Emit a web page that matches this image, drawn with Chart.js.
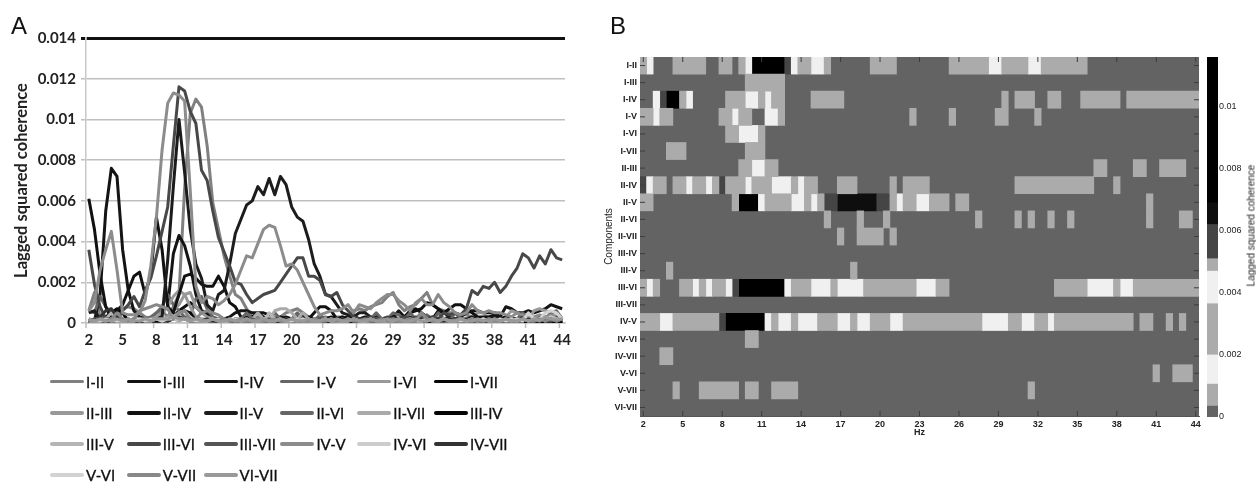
<!DOCTYPE html>
<html>
<head>
<meta charset="utf-8">
<title>Lagged squared coherence</title>
<script src="https://cdn.jsdelivr.net/npm/chart.js@4"></script>
<style>
  html, body { margin: 0; background: #fff; }
  #page { position: relative; width: 1256px; height: 482px; overflow: hidden; filter: blur(0.5px); }
  canvas { position: absolute; }
  .panel { position: absolute; font: 24px "Liberation Sans", sans-serif; color: #111; }
  #barTitle { position: absolute; left: 1186px; top: 220px; width: 130px; text-align: center; font: 10px "Liberation Sans", sans-serif; color: #222; transform: rotate(-90deg); }
  #legend { position: absolute; left: 50px; top: 366px; display: grid; grid-template-columns: repeat(6, 76.8px); grid-auto-rows: 31.2px; font: 15px Lato, sans-serif; color: #111; -webkit-text-stroke: 0.3px #111; }
  #legend div { display: flex; align-items: center; white-space: nowrap; }
  #legend i { display: block; width: 34px; height: 3.5px; margin-right: 2px; border-radius: 2px; }
</style>
</head>
<body>
<div id="page">
  <div class="panel" style="left:11px;top:12px">A</div>
  <div class="panel" style="left:610px;top:12px">B</div>
  <canvas id="lines"></canvas>
  <div id="legend"></div>
  <canvas id="heat"></canvas>
  <canvas id="bar"></canvas>
  <div id="barTitle">Lagged squared coherence</div>
</div>
<script>
const hz = [
  2, 2.5, 3, 3.5, 4, 4.5, 5, 5.5, 6, 6.5,
  7, 7.5, 8, 8.5, 9, 9.5, 10, 10.5, 11, 11.5,
  12, 12.5, 13, 13.5, 14, 14.5, 15, 15.5, 16, 16.5,
  17, 17.5, 18, 18.5, 19, 19.5, 20, 20.5, 21, 21.5,
  22, 22.5, 23, 23.5, 24, 24.5, 25, 25.5, 26, 26.5,
  27, 27.5, 28, 28.5, 29, 29.5, 30, 30.5, 31, 31.5,
  32, 32.5, 33, 33.5, 34, 34.5, 35, 35.5, 36, 36.5,
  37, 37.5, 38, 38.5, 39, 39.5, 40, 40.5, 41, 41.5,
  42, 42.5, 43, 43.5, 44
];
const hzTicks = [2, 5, 8, 11, 14, 17, 20, 23, 26, 29, 32, 35, 38, 41, 44];
const unit = 0.0001; // series below are in units of 0.0001

const pairs = ['I-II', 'I-III', 'I-IV', 'I-V', 'I-VI', 'I-VII', 'II-III', 'II-IV', 'II-V', 'II-VI', 'II-VII', 'III-IV', 'III-V', 'III-VI', 'III-VII', 'IV-V', 'IV-VI', 'IV-VII', 'V-VI', 'V-VII', 'VI-VII'];
const pairColors = ['#808080', '#111111', '#141414', '#666666', '#999999', '#050505', '#999999', '#111111', '#1c1c1c', '#666666', '#aaaaaa', '#050505', '#b5b5b5', '#484848', '#555555', '#8c8c8c', '#cccccc', '#333333', '#d2d2d2', '#888888', '#999999'];

const I_II = [6,15,3,2,2,5,7,8,7,5,
  3,2,5,6,3,8,14,66,103,110,
  106,87,59,46,33,23,14,12,7,3,
  3,2,2,3,3,5,6,7,5,3,
  2,2,3,2,3,3,2,6,7,6,
  8,9,10,13,15,9,6,8,9,12,
  15,9,7,6,5,5,4,4,3,2,
  2,3,2,2,3,2,2,3,2,2,
  3,2,3,2,2];
const I_III = [0,1,0,0,0,1,0,0,1,0,
  1,1,2,1,2,3,6,8,10,8,
  5,4,2,1,0,1,0,0,1,0,
  0,1,0,0,1,0,0,1,0,1,
  0,0,1,0,0,1,0,0,0,1,
  0,1,0,0,1,0,0,0,1,0,
  0,1,0,0,1,0,0,1,0,0,
  1,0,0,1,0,0,0,1,0,0,
  0,1,0,0,0];
const I_IV = [1,1,14,55,76,72,36,16,6,3,
  2,2,2,5,8,34,43,38,28,14,
  6,5,2,2,2,3,5,6,6,5,
  5,3,2,2,2,3,2,2,2,3,
  2,2,2,3,2,2,3,2,2,2,
  2,3,2,2,3,6,3,6,7,5,
  3,2,6,5,3,2,3,5,6,6,
  5,5,5,3,8,7,5,5,6,5,
  6,7,9,8,7];
const I_V = [6,5,13,8,5,2,2,1,2,2,
  2,3,5,8,14,9,6,3,3,12,
  13,7,3,2,2,1,1,2,1,1,
  1,2,1,1,2,1,1,2,1,2,
  1,4,2,1,1,2,1,4,2,1,
  1,2,1,2,5,4,2,1,2,1,
  4,2,1,1,2,1,1,2,1,1,
  2,1,1,1,2,1,2,1,1,2,
  1,1,2,1,1];
const I_VI = [1,1,1,2,2,1,2,1,1,2,
  2,2,3,5,8,13,16,14,8,3,
  2,2,1,2,1,1,2,1,2,1,
  1,1,2,1,1,2,1,1,1,2,
  1,1,1,2,1,1,1,1,2,1,
  1,2,1,1,1,2,1,1,1,1,
  2,1,1,1,2,1,1,1,1,2,
  1,1,1,2,1,1,1,2,1,1,
  2,1,1,1,2];
const I_VII = [0,1,1,3,5,7,5,1,0,1,
  0,1,1,1,2,3,5,6,5,1,
  1,0,0,1,1,0,0,1,0,0,
  1,0,0,1,0,1,0,0,1,0,
  0,1,1,0,0,1,0,1,0,0,
  1,0,0,1,0,0,1,1,0,0,
  1,0,0,1,0,1,0,0,1,0,
  0,1,0,1,0,0,1,0,0,1,
  0,1,0,0,1];
const II_III = [1,2,1,1,2,1,1,1,2,1,
  1,2,2,2,3,6,9,14,15,8,
  5,3,2,1,1,1,2,1,1,1,
  1,2,1,1,1,2,1,1,1,1,
  2,1,1,1,1,2,1,1,1,1,
  1,2,1,1,1,1,2,1,1,1,
  2,1,1,1,1,2,1,1,2,5,
  5,2,1,2,3,6,5,3,2,6,
  7,6,5,3,2];
const II_IV = [61,46,24,8,2,6,9,16,23,25,
  14,24,52,36,8,5,14,23,24,22,
  19,18,18,23,18,10,8,3,3,3,
  5,5,4,2,3,2,2,3,4,2,
  5,8,8,6,2,3,2,3,2,3,
  2,3,2,2,3,2,3,5,6,7,
  10,9,7,5,7,9,9,7,5,3,
  3,3,4,2,3,2,2,3,2,2,
  2,3,2,2,2];
const II_V = [5,6,2,1,2,1,1,2,1,2,
  1,2,2,3,31,67,100,74,46,29,
  22,9,6,14,16,29,44,51,58,60,
  67,63,71,63,72,68,57,52,50,41,
  29,23,14,13,9,5,4,3,5,5,
  3,2,2,2,3,2,2,3,2,2,
  2,3,2,2,3,2,2,2,3,2,
  2,2,3,2,2,2,2,4,2,2,
  3,2,2,2,3];
const II_VI = [1,1,2,1,1,2,1,1,2,1,
  1,2,1,1,2,2,3,2,2,1,
  1,2,1,2,1,1,2,2,5,2,
  1,2,2,5,2,1,2,5,2,1,
  2,1,1,2,1,2,1,1,2,1,
  2,5,2,1,2,1,2,5,2,5,
  2,1,5,2,1,5,2,1,2,1,
  1,2,1,1,2,1,2,5,2,1,
  2,2,5,6,2];
const II_VII = [1,1,1,2,1,1,1,2,1,1,
  1,1,2,1,1,2,1,2,1,1,
  2,1,1,1,2,1,1,2,1,2,
  5,2,2,6,7,7,5,2,5,2,
  1,1,2,1,1,1,2,1,1,1,
  1,2,1,1,1,2,1,1,1,2,
  1,1,1,2,1,1,1,1,2,1,
  1,1,2,1,1,1,2,1,1,1,
  2,1,1,2,1];
const III_IV = [0,1,0,0,1,0,1,0,0,1,
  0,1,1,1,1,2,3,2,1,0,
  0,1,0,0,1,0,0,1,0,0,
  1,0,1,0,0,1,0,0,1,0,
  0,1,0,0,1,0,0,1,0,0,
  1,0,0,1,0,1,0,0,1,0,
  0,1,0,0,1,0,0,1,0,0,
  1,0,1,0,0,1,0,0,1,0,
  0,1,0,0,1];
const III_V = [1,1,2,2,5,2,1,1,1,2,
  1,1,2,1,2,2,3,2,2,1,
  1,2,1,1,1,2,1,1,2,1,
  1,1,5,2,1,1,2,1,1,1,
  2,1,1,2,1,1,1,2,1,1,
  1,2,1,1,2,1,1,1,2,1,
  2,1,1,2,1,1,1,2,1,1,
  1,2,1,1,2,1,1,2,1,1,
  2,1,2,1,2];
const III_VI = [36,19,8,2,2,1,6,9,13,8,
  16,22,33,45,57,87,116,114,104,98,
  75,70,55,42,35,28,20,19,14,10,
  12,14,15,16,20,24,28,32,32,23,
  23,21,14,13,15,9,6,3,2,2,
  3,2,2,3,2,2,3,2,3,2,
  2,3,2,5,4,5,4,7,16,14,
  18,17,20,15,18,23,27,34,32,27,
  33,29,36,32,31];
const III_VII = [1,2,1,2,1,1,2,1,1,2,
  1,2,2,1,2,3,2,2,1,1,
  1,1,2,2,1,1,2,1,1,2,
  1,1,2,1,1,2,1,1,2,1,
  1,2,1,1,2,1,1,2,1,1,
  2,1,1,2,1,1,2,1,1,3,
  2,1,2,1,1,2,1,1,2,1,
  1,2,1,1,2,1,1,2,1,1,
  2,1,1,3,2];
const IV_V = [6,10,26,36,45,26,5,4,4,5,
  11,28,52,85,108,113,112,109,65,18,
  10,13,12,9,11,14,19,26,33,32,
  39,46,48,47,38,28,29,26,20,14,
  8,4,5,6,6,7,9,5,9,8,
  7,10,12,14,14,11,9,6,10,12,
  9,9,14,10,8,5,4,5,9,6,
  5,6,5,5,4,3,5,4,2,3,
  4,3,4,2,2];
const IV_VI = [1,1,1,2,1,1,1,1,2,1,
  1,2,2,2,2,3,5,6,3,1,
  1,1,1,2,1,1,1,1,2,1,
  1,1,1,2,1,1,1,2,1,1,
  1,1,2,1,1,1,2,1,1,1,
  1,1,2,1,1,1,1,2,1,1,
  1,2,1,1,1,1,2,1,1,1,
  2,1,1,1,1,2,1,1,2,1,
  2,2,3,2,2];
const IV_VII = [2,1,3,6,7,3,1,1,2,1,
  1,1,2,2,1,2,3,2,1,1,
  1,2,1,1,2,1,1,1,2,1,
  1,2,1,1,1,2,1,1,2,1,
  1,1,2,1,1,2,1,1,1,2,
  1,1,2,1,1,2,1,1,1,2,
  1,1,2,1,2,1,1,2,1,1,
  2,1,1,2,1,1,2,1,2,1,
  1,2,2,1,2];
const V_VI = [1,1,1,1,2,1,1,1,1,2,
  1,1,2,1,2,2,2,2,1,1,
  1,1,2,1,1,1,2,1,1,1,
  1,2,1,1,2,1,1,1,2,1,
  1,1,2,1,1,1,1,2,1,1,
  2,1,1,1,1,2,1,1,1,1,
  2,1,1,2,1,1,1,1,2,1,
  2,1,1,2,1,1,2,1,5,2,
  2,5,6,5,2];
const V_VII = [1,1,2,1,2,5,2,1,2,6,
  7,8,9,8,7,2,5,6,2,2,
  5,6,5,4,2,1,1,2,1,1,
  2,1,1,2,1,1,2,1,1,1,
  2,1,1,2,1,1,2,1,1,2,
  1,1,2,1,2,1,1,2,1,5,
  2,1,1,2,1,1,2,1,2,1,
  1,2,1,1,2,1,1,2,1,1,
  2,1,2,1,2];
const VI_VII = [2,1,2,1,1,2,1,2,1,1,
  2,1,2,2,2,3,2,2,1,2,
  1,1,2,1,1,2,1,1,2,1,
  1,2,1,1,2,1,2,1,1,2,
  1,1,2,1,2,1,1,2,1,1,
  2,1,1,2,1,2,1,1,2,1,
  1,2,1,2,1,1,2,1,1,2,
  1,1,2,1,2,1,1,2,1,2,
  1,3,2,2,2];
const pairSeries = [I_II, I_III, I_IV, I_V, I_VI, I_VII, II_III, II_IV, II_V, II_VI, II_VII, III_IV, III_V, III_VI, III_VII, IV_V, IV_VI, IV_VII, V_VI, V_VII, VI_VII];

// heatmap: per pair, runs of 0.5 Hz bins as [firstBin, endBin, band]
const levelColors = { g: '#636363', a: '#ababab', w: '#f0f0f0', d: '#454545', n: '#0e0e0e', k: '#000000' };
const heatRuns = [
  [[0,1,'a'],[1,2,'w'],[5,10,'a'],[12,14,'a'],[15,16,'a'],[16,17,'w'],[17,22,'k'],[22,23,'d'],[23,24,'w'],[24,26,'a'],[26,28,'w'],[28,29,'a'],[35,39,'a'],[47,53,'a'],[53,55,'w'],[55,59,'a'],[59,61,'w'],[61,68,'a']],
  [[16,22,'a']],
  [[2,3,'w'],[3,4,'d'],[4,6,'k'],[6,7,'a'],[7,8,'w'],[13,16,'a'],[16,18,'w'],[18,19,'a'],[19,20,'w'],[20,22,'a'],[26,31,'a'],[55,56,'a'],[57,60,'a'],[62,64,'a'],[67,73,'a'],[74,85,'a']],
  [[0,2,'a'],[2,3,'w'],[3,5,'a'],[12,14,'a'],[14,15,'w'],[15,17,'a'],[19,21,'w'],[21,22,'a'],[41,42,'a'],[47,48,'a'],[54,56,'a'],[60,61,'a']],
  [[13,15,'a'],[15,18,'w'],[18,19,'a']],
  [[4,7,'a'],[16,19,'a']],
  [[15,17,'a'],[17,19,'w'],[19,21,'a'],[69,71,'a'],[75,77,'a'],[79,83,'a']],
  [[0,1,'d'],[1,2,'w'],[2,4,'a'],[5,7,'a'],[7,8,'w'],[8,10,'a'],[10,11,'w'],[11,12,'a'],[12,13,'d'],[13,16,'a'],[16,17,'w'],[17,20,'a'],[20,23,'w'],[23,24,'a'],[24,25,'w'],[25,27,'a'],[30,33,'a'],[38,39,'a'],[40,44,'a'],[57,69,'a'],[72,73,'a']],
  [[0,2,'a'],[14,15,'a'],[15,18,'k'],[18,19,'w'],[19,23,'a'],[23,25,'w'],[25,26,'a'],[26,27,'w'],[27,28,'a'],[28,30,'d'],[30,36,'n'],[36,38,'d'],[38,39,'a'],[39,40,'w'],[40,42,'a'],[42,44,'w'],[44,47,'a'],[48,50,'a'],[77,78,'a']],
  [[28,29,'a'],[33,34,'a'],[37,38,'a'],[51,52,'a'],[57,58,'a'],[59,60,'a'],[62,63,'a'],[65,66,'a'],[77,78,'a'],[82,84,'a']],
  [[30,31,'a'],[33,37,'a'],[38,39,'a']],
  [],
  [[4,5,'a'],[32,33,'a']],
  [[0,1,'a'],[1,2,'w'],[2,3,'a'],[6,8,'a'],[8,9,'w'],[9,10,'a'],[10,11,'w'],[11,13,'a'],[13,14,'w'],[14,15,'d'],[15,22,'k'],[22,23,'w'],[23,26,'a'],[26,29,'w'],[29,30,'a'],[30,34,'w'],[34,42,'a'],[42,45,'w'],[45,47,'a'],[63,68,'a'],[68,72,'w'],[72,73,'a'],[73,75,'w'],[75,85,'a']],
  [],
  [[0,3,'a'],[3,5,'w'],[5,12,'a'],[12,13,'d'],[13,19,'k'],[19,20,'w'],[20,21,'a'],[21,23,'w'],[23,24,'a'],[24,27,'w'],[27,30,'a'],[30,32,'w'],[32,33,'a'],[33,35,'w'],[35,38,'a'],[38,40,'w'],[40,52,'a'],[52,56,'w'],[56,58,'a'],[58,60,'w'],[60,62,'a'],[62,63,'w'],[63,75,'a'],[76,78,'a'],[80,81,'a'],[82,83,'a']],
  [[16,18,'a']],
  [[3,5,'a']],
  [[78,79,'a'],[81,84,'a']],
  [[5,6,'a'],[9,15,'a'],[16,18,'a'],[20,24,'a'],[59,60,'a']],
  []
];

// colour bar bands: [from, to, band]
const barBands = [[0, 0.00035, 'g'], [0.00035, 0.00106, 'a'], [0.00106, 0.002, 'w'], [0.002, 0.00365, 'a'], [0.00365, 0.0047, 'w'], [0.0047, 0.0051, 'a'], [0.0051, 0.0062, 'd'], [0.0062, 0.0069, 'n'], [0.0069, 0.0116, 'k']];

const smallFont = { family: '"Liberation Sans", sans-serif', size: 9, weight: 'bold' };
const tickFont = { family: 'Lato', size: 15, weight: 'bold' };
const fmt = v => String(+v.toFixed(3));

function place(id, left, top, w, h) {
  const c = document.getElementById(id);
  c.style.left = left + 'px';
  c.style.top = top + 'px';
  c.width = w;
  c.height = h;
  c.style.width = w + 'px';
  c.style.height = h + 'px';
  return c;
}

// tick marks of panel A sit half a bin before each label
const betweenTicks = {
  id: 'betweenTicks',
  afterDraw(chart) {
    const { ctx, scales: { x }, chartArea } = chart;
    ctx.save();
    ctx.strokeStyle = '#bdbdbd';
    ctx.lineWidth = 1.5;
    x.ticks.forEach(t => {
      const px = x.getPixelForValue(t.value - 0.25);
      ctx.beginPath();
      ctx.moveTo(px, chartArea.bottom);
      ctx.lineTo(px, chartArea.bottom + 5);
      ctx.stroke();
    });
    ctx.restore();
  }
};

// tick marks of panel B point into the plot on all four sides
const insideTicks = {
  id: 'insideTicks',
  beforeDatasetsDraw(chart) {
    const { ctx, chartArea: a } = chart;
    ctx.save();
    ctx.fillStyle = levelColors.g;
    ctx.fillRect(a.left, a.top, a.right - a.left, a.bottom - a.top);
    ctx.restore();
  },
  afterDraw(chart) {
    const { ctx, scales: { x, y }, chartArea: a } = chart;
    ctx.save();
    ctx.strokeStyle = '#3c3c3c';
    ctx.lineWidth = 1;
    const seg = (x1, y1, x2, y2) => {
      ctx.beginPath();
      ctx.moveTo(x1, y1);
      ctx.lineTo(x2, y2);
      ctx.stroke();
    };
    y.ticks.forEach((t, i) => {
      const py = y.getPixelForTick(i);
      seg(a.left, py, a.left + 5, py);
      seg(a.right, py, a.right - 5, py);
    });
    x.ticks.forEach(t => {
      const px = x.getPixelForValue(t.value);
      seg(px, a.bottom, px, a.bottom - 5);
      seg(px, a.top, px, a.top + 5);
    });
    ctx.restore();
  }
};

new Chart(place('lines', 0, 0, 600, 360), {
  type: 'line',
  data: {
    datasets: pairSeries.map((values, i) => ({
      label: pairs[i],
      data: values.map((v, j) => ({ x: hz[j], y: v * unit })),
      borderColor: pairColors[i],
      borderWidth: 3,
      pointRadius: 0,
      tension: 0,
      borderJoinStyle: 'round',
      order: -i
    }))
  },
  options: {
    responsive: false,
    animation: false,
    layout: { padding: { top: 38, right: 35, bottom: 10, left: 0 } },
    plugins: { legend: { display: false }, tooltip: { enabled: false } },
    scales: {
      x: {
        type: 'linear',
        min: 1.75,
        max: 44.25,
        afterBuildTicks: s => { s.ticks = hzTicks.map(v => ({ value: v })); },
        afterFit: s => { s.height = 27; },
        grid: { display: false, drawTicks: false },
        border: { color: '#c4c4c4', width: 1.5 },
        ticks: { autoSkip: false, maxRotation: 0, padding: 8, font: tickFont, color: '#222', callback: v => v }
      },
      y: {
        min: 0,
        max: 0.014,
        afterFit: s => { s.width = 86; },
        title: { display: true, text: 'Lagged squared coherence', font: { family: 'Lato', size: 16.5, weight: 'bold' }, color: '#222', padding: { top: 12, bottom: 0 } },
        grid: {
          color: ctx => (ctx.tick && ctx.tick.value > 0.0139 ? '#111111' : '#bfbfbf'),
          lineWidth: ctx => (ctx.tick && ctx.tick.value > 0.0139 ? 3 : 1.5),
          tickLength: 5
        },
        border: { color: '#c8c8c8', width: 1.5 },
        ticks: { stepSize: 0.002, padding: 5, font: tickFont, color: '#222', callback: fmt }
      }
    }
  },
  plugins: [betweenTicks]
});

document.getElementById('legend').innerHTML = pairs.map((name, i) =>
  `<div><i style="background:${pairColors[i]}"></i>${name}</div>`).join('');

const heatData = { g: [], a: [], w: [], d: [], n: [], k: [] };
pairs.forEach((name, row) => {
  heatData.g.push({ x: [hz[0] - 0.25, hz[84] + 0.25], y: name });
  heatRuns[row].forEach(([from, to, band]) => {
    heatData[band].push({ x: [hz[from] - 0.25, hz[to - 1] + 0.25], y: name });
  });
});

new Chart(place('heat', 590, 0, 615, 438), {
  type: 'bar',
  data: {
    labels: pairs,
    datasets: ['a', 'w', 'd', 'n', 'k', 'g'].map(band => ({
      label: band,
      data: heatData[band],
      backgroundColor: levelColors[band],
      borderWidth: 0,
      grouped: false,
      barPercentage: 1,
      categoryPercentage: 1
    }))
  },
  options: {
    indexAxis: 'y',
    responsive: false,
    animation: false,
    layout: { padding: { top: 57, right: 6, bottom: 0, left: 0 } },
    plugins: { legend: { display: false }, tooltip: { enabled: false } },
    scales: {
      x: {
        type: 'linear',
        min: 1.75,
        max: 44.25,
        afterBuildTicks: s => { s.ticks = hzTicks.map(v => ({ value: v })); },
        afterFit: s => { s.height = 22; },
        grid: { display: false, drawTicks: false },
        border: { color: '#555', width: 1 },
        title: { display: true, text: 'Hz', font: smallFont, color: '#222', padding: 0 },
        ticks: { autoSkip: false, maxRotation: 0, padding: 3, font: smallFont, color: '#222', callback: v => v }
      },
      y: {
        type: 'category',
        labels: pairs,
        afterFit: s => { s.width = 50; },
        grid: { display: false, drawTicks: false },
        border: { color: '#555', width: 1 },
        title: { display: true, text: 'Components', font: { family: '"Liberation Sans", sans-serif', size: 10 }, color: '#222', padding: { top: 13, bottom: 0 } },
        ticks: { autoSkip: false, padding: 3, font: smallFont, color: '#222' }
      }
    }
  },
  plugins: [insideTicks]
});

new Chart(place('bar', 1200, 0, 56, 450), {
  type: 'bar',
  data: {
    labels: [''],
    datasets: barBands.map(([from, to, band]) => ({
      data: [[from, to]],
      backgroundColor: levelColors[band],
      borderWidth: 0,
      grouped: false,
      barPercentage: 1,
      categoryPercentage: 1
    }))
  },
  options: {
    responsive: false,
    animation: false,
    layout: { padding: { top: 57, right: 0, bottom: 33, left: 7 } },
    plugins: { legend: { display: false }, tooltip: { enabled: false } },
    scales: {
      x: { display: false },
      y: {
        position: 'right',
        min: 0,
        max: 0.0116,
        afterFit: s => { s.width = 38; },
        grid: { display: false, drawTicks: false },
        border: { display: false },
        ticks: { stepSize: 0.002, includeBounds: false, padding: 1, font: { family: '"Liberation Sans", sans-serif', size: 9 }, color: '#222', callback: fmt }
      }
    }
  }
});
</script>
</body>
</html>
